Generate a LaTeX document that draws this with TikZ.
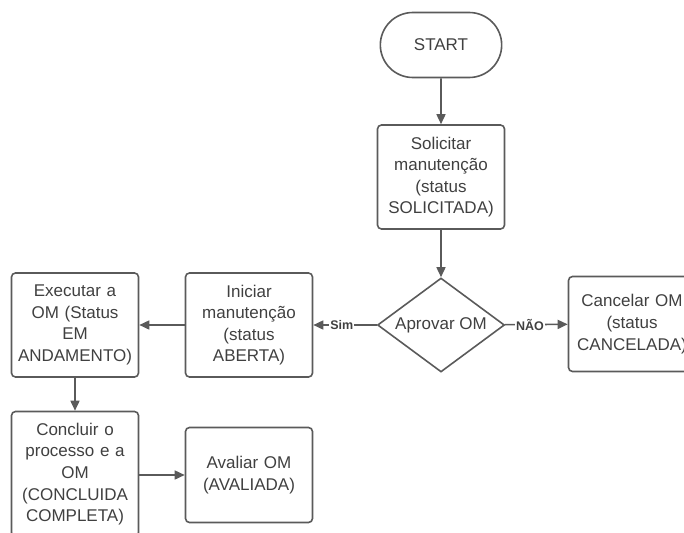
\documentclass[tikz,border=0pt]{standalone}
\usepackage{fontspec}
\setmainfont{Liberation Sans}
\usetikzlibrary{arrows.meta,shapes.geometric,shapes.misc}
\definecolor{linha}{HTML}{5A5A5A}
\definecolor{texto}{HTML}{404040}
\begin{document}
\begin{tikzpicture}[x=1pt,y=-1pt] % fluxo da OM
\tikzstyle{caixa} = [rectangle, draw=linha, line width=1.6pt, rounded corners=4pt, minimum width=127pt, minimum height=104pt, text width=124pt, align=center, inner sep=0pt, text=texto, font=\fontsize{17}{21.6}\selectfont] % passo do processo
\tikzstyle{inicio} = [rounded rectangle, draw=linha, line width=1.6pt, minimum width=128pt, minimum height=65pt, text=texto, font=\fontsize{17}{21.6}\selectfont] % terminal
\tikzstyle{decisao} = [diamond, draw=linha, line width=1.6pt, aspect=1.35, inner sep=0pt, minimum width=127pt, minimum height=94pt, text=texto, font=\fontsize{17}{21.6}\selectfont] % losango
\tikzstyle{seta} = [draw=linha, line width=1.6pt, -{Triangle[length=10pt,width=9pt]}] % conector
\tikzstyle{rotulo} = [fill=white, inner sep=1pt, text=texto, font=\fontsize{12.5}{14}\selectfont\bfseries] % texto no conector

\useasboundingbox (0,0) rectangle (684,532);

\node[inicio] (start) at (441,45) {START};
\node[caixa] (solicitar) at (441,177) {Solicitar\\manutenção\\(status\\SOLICITADA)};
\node[decisao] (aprovar) at (441,325) {Aprovar OM};
\node[caixa, minimum height=95pt] (cancelar) at (632,324) {Cancelar OM\\(status\\CANCELADA)};
\node[caixa] (iniciar) at (249,325) {Iniciar\\manutenção\\(status\\ABERTA)};
\node[caixa, minimum height=104pt] (executar) at (75,325) {Executar a\\OM (Status\\EM\\ANDAMENTO)};
\node[caixa, minimum height=125pt] (concluir) at (75,474) {Concluir o\\processo e a\\OM\\(CONCLUIDA\\COMPLETA)};
\node[caixa, minimum height=95pt] (avaliar) at (249,475) {Avaliar OM\\(AVALIADA)};

\draw[seta] (start) -- (solicitar);
\draw[seta] (solicitar) -- (aprovar);
\draw[seta] (aprovar) -- node[rotulo, pos=0.4] {NÃO} (cancelar);
\draw[seta] (aprovar) -- node[rotulo, pos=0.55] {Sim} (iniciar);
\draw[seta] (iniciar) -- (executar);
\draw[seta] (executar) -- (concluir);
\draw[seta] (concluir.east |- avaliar) -- (avaliar);
\end{tikzpicture}
\end{document}
